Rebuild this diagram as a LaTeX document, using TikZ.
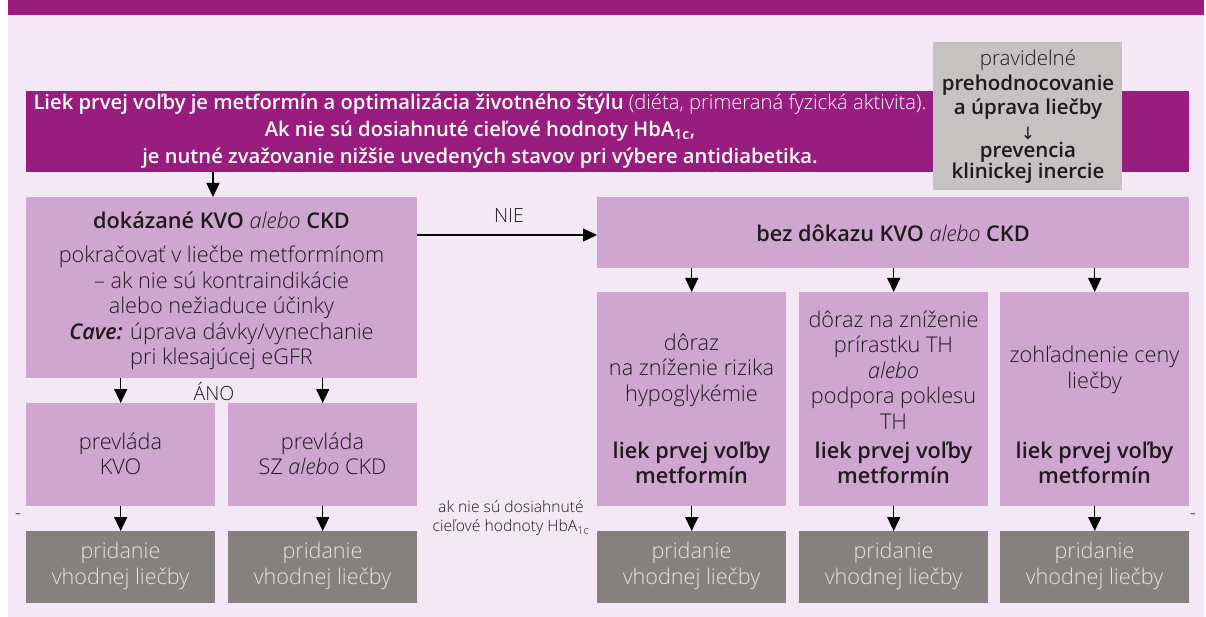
\documentclass[tikz,border=0pt]{standalone}
\usepackage{fontspec}
\setmainfont{Open Sans}[UprightFont={* Light}, ItalicFont={* Light Italic}]
\newfontfamily\symfont{DejaVu Sans}
\usetikzlibrary{arrows.meta}
\definecolor{dpurple}{HTML}{991C7F}
\definecolor{bgpink}{HTML}{F4E8F6}
\definecolor{lpurple}{HTML}{CFA6CF}
\definecolor{lgray}{HTML}{C4C3C1}
\definecolor{dgray}{HTML}{85817E}
\definecolor{gtext}{HTML}{E6E4E3}
\definecolor{dtext}{HTML}{1F1A1C}
\tikzset{
  box/.style={fill=lpurple, draw=none, anchor=north west, inner sep=0pt},
  gbox/.style={fill=dgray, draw=none, anchor=north west, inner sep=0pt},
  txt/.style={text=dtext, align=center, inner sep=0pt, font=\fontsize{21.7}{25.5}\selectfont},
  gtxt/.style={text=gtext, align=center, inner sep=0pt, font=\fontsize{21.6}{26}\selectfont},
  lbl/.style={text=dtext, align=center, inner sep=0pt, font=\fontsize{19.5}{22}\selectfont},
  revt/.style={text=dtext, align=center, inner sep=0pt, font=\fontsize{20.5}{24.5}\selectfont},
  arr/.style={draw=black, line width=1.4pt, -{Triangle[length=14pt,width=13pt]}},
}
\begin{document}
\begin{tikzpicture}[x=1pt,y=-1pt]
\useasboundingbox (0,0) rectangle (1206,617);
% background
\fill[bgpink] (8,15) rectangle (1204,617);
\fill[dpurple] (8,0) rectangle (1204,15);
% banner
\node[fill=dpurple, anchor=north west, inner sep=0pt, minimum width=1163pt, minimum height=81pt] (banner) at (26,91) {};
\node[text=white, align=center, inner sep=0pt, font=\fontsize{20.2}{27}\selectfont] (bannertxt) at (480,131)
 {\textbf{Liek prvej voľby je metformín a optimalizácia životného štýlu} (diéta, primeraná fyzická aktivita).\\
  \textbf{Ak nie sú dosiahnuté cieľové hodnoty HbA\textsubscript{1c},}\\
  \textbf{je nutné zvažovanie nižšie uvedených stavov pri výbere antidiabetika.}};
% gray top-right
\node[fill=lgray, anchor=north west, inner sep=0pt, minimum width=189pt, minimum height=148pt] (rev) at (933,42) {};
\node[revt] (revtop) at (1028,85)
 {pravidelné\\ \textbf{prehodnocovanie}\\ \textbf{a úprava liečby}};
\node[text=dtext, inner sep=0pt, text height=12pt, text depth=0pt, font=\symfont\fontsize{17}{17}\selectfont] (revarrow) at (1028,134) {↓};
\node[revt, font=\fontsize{20.5}{18.5}\selectfont] (revbot) at (1028,163)
 {\textbf{prevencia}\\ \textbf{klinickej inercie}};
% left column
\node[box, minimum width=391pt, minimum height=181pt] (kvo) at (26,197) {};
\node[txt] (kvotxt) at (221.5,291)
 {\textbf{dokázané KVO} \textit{alebo} \textbf{CKD}\\[9pt]
  pokračovať v liečbe metformínom\\
  – ak nie sú kontraindikácie\\
  alebo nežiaduce účinky\\
  \textbf{\textit{Cave:}} úprava dávky/vynechanie\\
  pri klesajúcej eGFR};
\node[box, minimum width=189pt, minimum height=103pt] (pkvo) at (26,403) {};
\node[box, minimum width=189pt, minimum height=103pt] (psz) at (228,403) {};
\node[txt] (pkvotxt) at (120.5,454) {prevláda\\KVO};
\node[txt] (psztxt) at (322.5,454) {prevláda\\SZ \textit{alebo} CKD};
\node[gbox, minimum width=189pt, minimum height=72pt] (g1) at (26,531) {};
\node[gbox, minimum width=189pt, minimum height=72pt] (g2) at (228,531) {};
\node[gtxt] (g1t) at (120.5,566) {pridanie\\vhodnej liečby};
\node[gtxt] (g2t) at (322.5,566) {pridanie\\vhodnej liečby};
% right column
\node[box, minimum width=592pt, minimum height=71pt] (bez) at (597,197) {};
\node[txt] (beztxt) at (893,233) {\textbf{bez dôkazu KVO} \textit{alebo} \textbf{CKD}};
\node[box, minimum width=189pt, minimum height=214pt] (r1) at (597,292) {};
\node[box, minimum width=189pt, minimum height=214pt] (r2) at (799,292) {};
\node[box, minimum width=189pt, minimum height=214pt] (r3) at (1000,292) {};
\node[txt] (r1a) at (691.5,370) {dôraz\\na zníženie rizika\\hypoglykémie};
\node[txt] (r2a) at (893.5,370) {dôraz na zníženie\\prírastku TH\\\textit{alebo}\\podpora poklesu\\TH};
\node[txt] (r3a) at (1094.5,370) {zohľadnenie ceny\\liečby};
\node[txt] (r1b) at (691.5,463) {\textbf{liek prvej voľby}\\\textbf{metformín}};
\node[txt] (r2b) at (893.5,463) {\textbf{liek prvej voľby}\\\textbf{metformín}};
\node[txt] (r3b) at (1094.5,463) {\textbf{liek prvej voľby}\\\textbf{metformín}};
\node[gbox, minimum width=189pt, minimum height=72pt] (g3) at (597,531) {};
\node[gbox, minimum width=189pt, minimum height=72pt] (g4) at (799,531) {};
\node[gbox, minimum width=189pt, minimum height=72pt] (g5) at (1000,531) {};
\node[gtxt] (g3t) at (691.5,566) {pridanie\\vhodnej liečby};
\node[gtxt] (g4t) at (893.5,566) {pridanie\\vhodnej liečby};
\node[gtxt] (g5t) at (1094.5,566) {pridanie\\vhodnej liečby};
% labels
\node[lbl] (nie) at (509,216) {NIE};
\node[lbl] (ano) at (214,392) {ÁNO};
\node[text=dtext, align=center, inner sep=0pt, font=\fontsize{15.7}{19}\selectfont] (aknie) at (511,518)
 {ak nie sú dosiahnuté\\cieľové hodnoty HbA\textsubscript{1c}};
\node[lbl] (dashl) at (18,517) {-};
\node[lbl] (dashr) at (1193,517) {-};
% arrows
\draw[arr] (banner.south -| 213,0) -- (kvo.north -| 213,0);
\draw[arr] (kvo.east |- 0,235) -- (bez.west |- 0,235);
\draw[arr] (kvo.south -| pkvo.north) -- (pkvo.north);
\draw[arr] (kvo.south -| psz.north) -- (psz.north);
\draw[arr] (pkvo.south) -- (g1.north);
\draw[arr] (psz.south) -- (g2.north);
\draw[arr] (bez.south -| r1.north) -- (r1.north);
\draw[arr] (bez.south -| r2.north) -- (r2.north);
\draw[arr] (bez.south -| r3.north) -- (r3.north);
\draw[arr] (r1.south) -- (g3.north);
\draw[arr] (r2.south) -- (g4.north);
\draw[arr] (r3.south) -- (g5.north);
\end{tikzpicture}
\end{document}
